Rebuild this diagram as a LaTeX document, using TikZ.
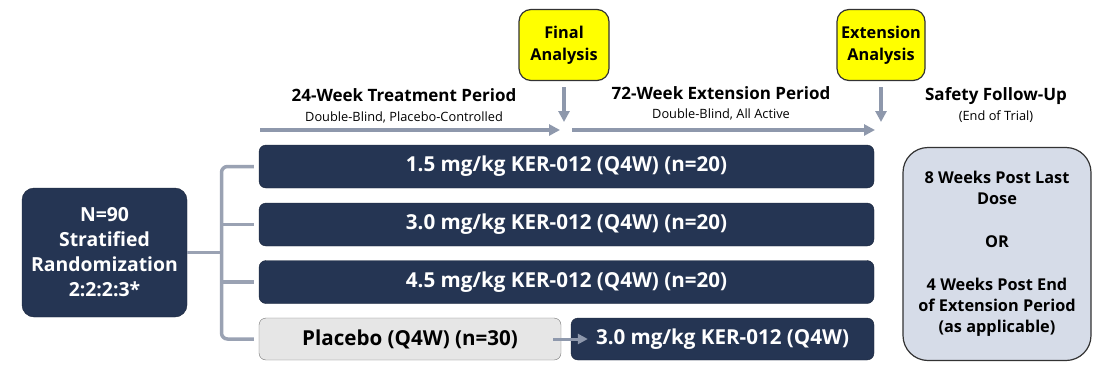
\documentclass[tikz,border=0pt]{standalone}
\usepackage{fontspec}
\setmainfont{Open Sans}
\usetikzlibrary{arrows.meta,positioning}
\definecolor{navy}{HTML}{253553}
\definecolor{lineg}{HTML}{8E98AC}
\definecolor{brk}{HTML}{9AA2B3}
\definecolor{pbo}{HTML}{E6E6E6}
\definecolor{safe}{HTML}{D6DCE8}
\definecolor{yel}{HTML}{FFFF00}
\begin{document}
\begin{tikzpicture}[x=1pt,y=-1pt,line join=round,>={Triangle[length=11pt,width=11pt]}]
\tikzset{arm/.style={draw=navy!70!black,fill=navy,rounded corners=7pt,text=white,inner sep=0pt,
    minimum height=43pt,font=\bfseries\fontsize{20.6}{23}\selectfont},
  pbobox/.style={arm,draw=black!55,fill=pbo,text=black},
  milestone/.style={draw=black!80,line width=1.2pt,fill=yel,rounded corners=12pt,align=center,
    minimum width=90pt,minimum height=71pt,inner sep=0pt,font=\bfseries\fontsize{16.3}{22}\selectfont},
  period/.style={font=\bfseries\fontsize{17}{20}\selectfont},
  sub/.style={font=\fontsize{12.8}{15}\selectfont},
  tl/.style={->,draw=lineg,line width=3.5pt},
  bracket/.style={draw=brk,line width=3.5pt}}
\useasboundingbox (0,0) rectangle (1100,367);
% milestones
\node[milestone] (fin) at (564,45) {Final\\Analysis};
\node[milestone,minimum width=88pt] (ext) at (881,45) {Extension\\Analysis};
% period titles
\node[period] (tp) at (404,95) {24-Week Treatment Period};
\node[sub] (tps) at (404,117) {Double-Blind, Placebo-Controlled};
\node[period] (ep) at (721,93) {72-Week Extension Period};
\node[sub] (eps) at (721,114) {Double-Blind, All Active};
\node[period] (sf) at (996,96) {Safety Follow-Up};
\node[sub] (sfs) at (996,117) {(End of Trial)};
% timeline
\coordinate (t0) at (260,130);
\coordinate (t1) at (560,130);
\coordinate (t2) at (572,130);
\coordinate (t3) at (875,130);
\draw[tl] (t0) -- (t1);
\draw[tl] (t2) -- (t3);
\draw[tl,shorten >=8pt] ([yshift=-6pt]fin.south) -- (fin.south |- t1);
\draw[tl,shorten >=8pt] ([yshift=-6pt]ext.south) -- (ext.south |- t3);
% arms
\foreach \d/\y [count=\i] in {1.5/166.5,3.0/224.5,4.5/282}
  \node[arm,minimum width=615pt] (r\i) at (566.5,\y) {\d\ mg/kg KER-012 (Q4W) (n=20)};
\node[pbobox,minimum width=302pt,minimum height=42pt] (r4) at (410,339) {Placebo (Q4W) (n=30)};
\node[arm,minimum width=303pt,minimum height=42pt] (r4b) at (722.5,339) {3.0 mg/kg KER-012 (Q4W)};
\draw[tl,line width=3pt,>={Triangle[length=10pt,width=10pt]}] ([xshift=-8pt]r4.east) -- ([xshift=17pt]r4b.west);
% randomization
\node[arm,rounded corners=12pt,minimum width=165pt,minimum height=129pt,align=center,
  font=\bfseries\fontsize{19.4}{25}\selectfont]
  (rand) at (104.5,252.5) {N=90\\Stratified\\Randomization\\2:2:2:3*};
\coordinate (br) at (221.5,252.5);
\draw[bracket] (rand.east) -- (br);
\draw[bracket,rounded corners=6pt] ([xshift=-5pt]r1.west) -| (br) |- ([xshift=-5pt]r4.west);
\foreach \i in {2,3}
  \draw[bracket] (br |- r\i) -- ([xshift=-5pt]r\i.west);
% safety follow-up
\node[draw=black!80,line width=1.2pt,fill=safe,rounded corners=25pt,align=center,
  minimum width=188pt,minimum height=213pt,font=\bfseries\fontsize{16.3}{21}\selectfont]
  (safety) at (997,254) {8 Weeks Post Last\\Dose\\[22pt]OR\\[22pt]4 Weeks Post End\\of Extension Period\\(as applicable)};
\end{tikzpicture}
\end{document}
